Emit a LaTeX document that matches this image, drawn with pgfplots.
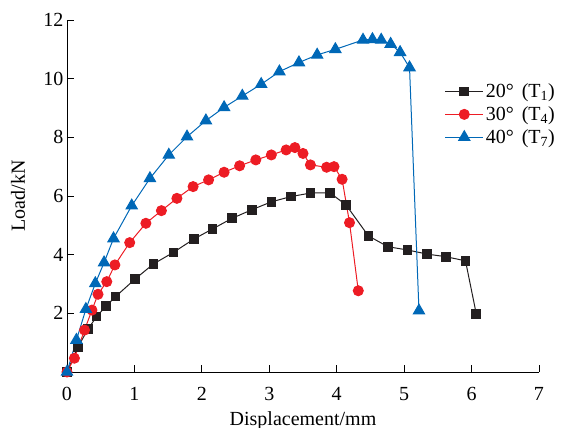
\documentclass[border=0pt]{standalone}
\usepackage{pgfplots}
\pgfplotsset{compat=1.18}
\usepackage{fontspec}
\setmainfont{Liberation Serif}
\definecolor{cblack}{RGB}{35,31,32}
\definecolor{cred}{RGB}{237,28,36}
\definecolor{cblue}{RGB}{0,104,183}
\begin{document}
\begin{tikzpicture}
\begin{axis}[
  at={(0,0)}, anchor=south west,
  scale only axis, width=472pt, height=352pt,
  xmin=0, xmax=7, ymin=0, ymax=12,
  axis x line*=bottom, axis y line*=left,
  xtick={0,1,...,7}, ytick={2,4,...,12},
  tick align=inside, major tick length=7pt,
  every tick/.style={black, line width=0.8pt},
  axis line style={line width=0.8pt},
  tick label style={font=\fontsize{20}{24}\selectfont},
  /pgf/number format/assume math mode=true,
  xticklabel style={yshift=-12pt},
  xlabel={Displacement/mm}, ylabel={Load/kN},
  label style={font=\fontsize{20}{24}\selectfont},
  xlabel style={at={(axis description cs:0.5,-0.1506)}, anchor=base},
  ylabel style={at={(axis description cs:-0.104,0.5)}, anchor=center},
  clip=false,
  legend cell align=left,
  legend style={at={(rel axis cs:0.80,0.825)}, anchor=north west, draw=none, fill=none,
    font=\fontsize{20}{24}\selectfont, row sep=3.5pt, inner sep=0pt},
  legend image code/.code={\draw[mark repeat=2,mark phase=2] plot coordinates {(0pt,0pt)(19pt,0pt)(38pt,0pt)};},
]
\addplot[cblack, line width=1pt, mark=square*, mark size=4.3pt, mark options={solid, fill=cblack}] coordinates {
(0,0) (0.16,0.84) (0.31,1.46) (0.44,1.89) (0.58,2.25) (0.72,2.57) (1.01,3.17) (1.28,3.68) (1.58,4.08)
(1.88,4.53) (2.16,4.88) (2.45,5.24) (2.74,5.53) (3.03,5.80) (3.32,5.98) (3.61,6.10) (3.90,6.11)
(4.14,5.69) (4.47,4.64) (4.76,4.27) (5.05,4.16) (5.34,4.02) (5.62,3.93) (5.91,3.79) (6.07,1.98)
};
\addlegendentry{20°\hspace{0.4em}(T\textsubscript{1})}
\addplot[cred, line width=1pt, mark=*, mark size=5pt, mark options={solid, fill=cred}] coordinates {
(0,0) (0.11,0.47) (0.26,1.43) (0.37,2.11) (0.46,2.65) (0.59,3.08) (0.71,3.65) (0.93,4.41) (1.17,5.07)
(1.40,5.50) (1.63,5.92) (1.87,6.32) (2.10,6.55) (2.33,6.81) (2.56,7.03) (2.80,7.23) (3.03,7.40)
(3.25,7.57) (3.38,7.65) (3.50,7.45) (3.61,7.06) (3.85,6.98) (3.96,7.00) (4.08,6.57) (4.19,5.09) (4.32,2.77)
};
\addlegendentry{30°\hspace{0.4em}(T\textsubscript{4})}
\addplot[cblue, line width=1pt, mark=triangle*, mark size=6.5pt, mark options={solid, fill=cblue}] coordinates {
(0,0) (0.14,1.09) (0.28,2.14) (0.42,3.02) (0.55,3.73) (0.69,4.55) (0.96,5.67) (1.23,6.60) (1.51,7.40)
(1.78,8.02) (2.06,8.57) (2.33,9.02) (2.60,9.41) (2.88,9.81) (3.15,10.24) (3.44,10.55) (3.71,10.81)
(3.98,11.00) (4.39,11.32) (4.53,11.34) (4.66,11.32) (4.80,11.18) (4.94,10.90) (5.08,10.38) (5.22,2.09)
};
\addlegendentry{40°\hspace{0.4em}(T\textsubscript{7})}
\end{axis}
\pgfresetboundingbox
\useasboundingbox (-67pt,-56pt) rectangle (501pt,372pt);
\end{tikzpicture}
\end{document}
